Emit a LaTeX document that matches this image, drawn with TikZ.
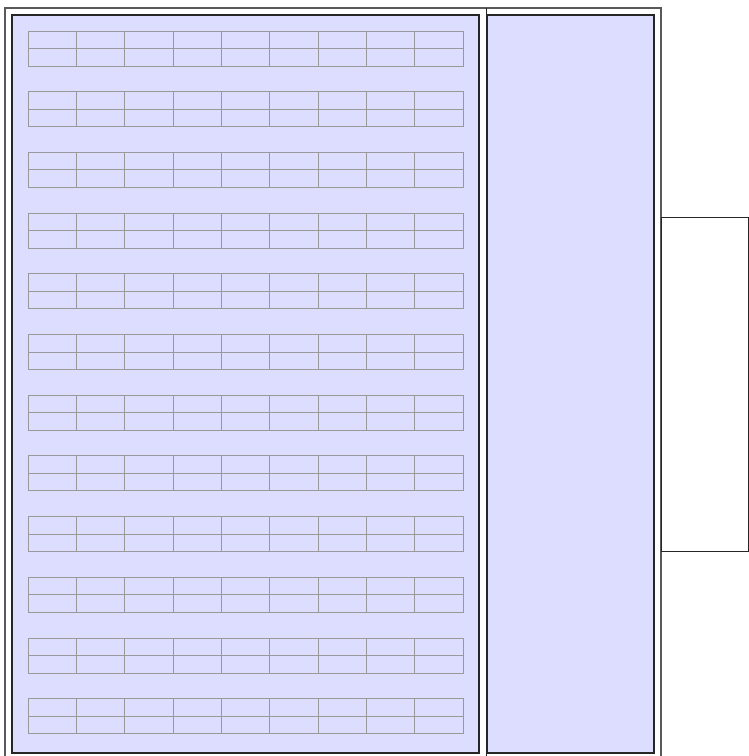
\documentclass[tikz,border=0pt]{standalone}
\begin{document}
\begin{tikzpicture}[x=1pt,y=-1pt,
  frame/.style={draw=black!65,line width=1.2pt},
  panel/.style={draw=black!85,line width=1.1pt,fill={rgb,255:red,221;green,221;blue,255}},
  cell/.style={draw=black!40,line width=1pt}]
\useasboundingbox (0,0) rectangle (749,756);
\clip (0,0) rectangle (749,756);
% outer frames
\draw[frame] (5,780) -- (5,8) -- (661,8) -- (661,780);
\draw[frame,draw=black!85,line width=1pt] (486,8) -- (486,780);
% panels
\draw[panel] (12,15) rectangle (479,753);
\draw[panel] (487,15) rectangle (654,753);
% side box
\draw[draw=black!85,line width=1pt,fill=white] (661,217) rectangle (748,551);
% tables
\foreach \k in {0,...,11}{
  \pgfmathsetmacro{\yt}{31+\k*60.7}
  \pgfmathsetmacro{\ym}{\yt+17.5}
  \pgfmathsetmacro{\yb}{\yt+35}
  \draw[cell] (28,\yt) rectangle (463,\yb);
  \draw[cell] (28,\ym) -- (463,\ym);
  \foreach \c in {1,...,8}{
    \pgfmathsetmacro{\xc}{28+\c*48.333}
    \draw[cell] (\xc,\yt) -- (\xc,\yb);
  }
}
\end{tikzpicture}
\end{document}
